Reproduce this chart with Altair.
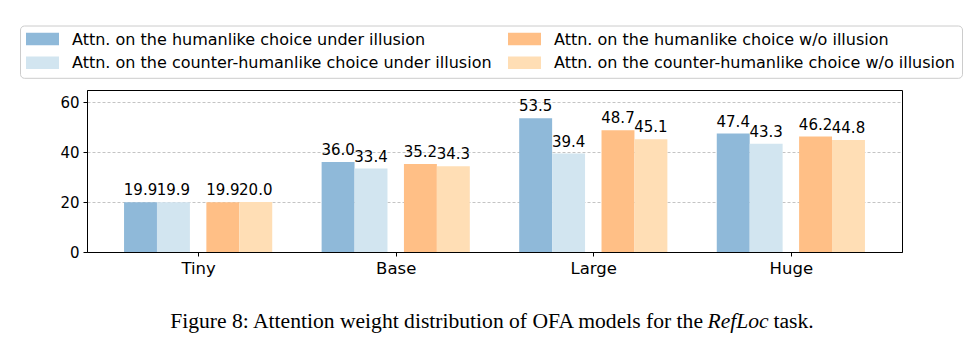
import json
import altair as alt
import pandas as pd

# ---------------- data ----------------
models = ["Tiny", "Base", "Large", "Huge"]
series = [
    "Attn. on the humanlike choice under illusion",
    "Attn. on the counter-humanlike choice under illusion",
    "Attn. on the humanlike choice w/o illusion",
    "Attn. on the counter-humanlike choice w/o illusion",
]
colors = ["#8fb9d9", "#d2e5f0", "#ffbf86", "#ffdeb5"]
humanlike_illusion = [19.9, 36.0, 53.5, 47.4]
counter_illusion = [19.9, 33.4, 39.4, 43.3]
humanlike_no_illusion = [19.9, 35.2, 48.7, 46.2]
counter_no_illusion = [20.0, 34.3, 45.1, 44.8]
y_ticks = [0, 20, 40, 60]
caption_main = "Figure 8: Attention weight distribution of OFA models for the"
caption_italic = "RefLoc"
caption_end = "task."

# ---------------- layout ----------------
BAR_W = 1 / 6
GAP = BAR_W / 2
offsets = [-(GAP / 2 + 1.5 * BAR_W), -(GAP / 2 + 0.5 * BAR_W),
           GAP / 2 + 0.5 * BAR_W, GAP / 2 + 1.5 * BAR_W]
values = [humanlike_illusion, counter_illusion, humanlike_no_illusion, counter_no_illusion]

rows = []
for si, (name, vals) in enumerate(zip(series, values)):
    for mi, m in enumerate(models):
        c = mi + offsets[si]
        rows.append({"model": m, "series": name, "value": vals[mi],
                     "center": c, "x0": c - BAR_W / 2, "x1": c + BAR_W / 2})
df = pd.DataFrame(rows)

FONT = "DejaVu Sans"
W, H = 815, 162
xscale = alt.Scale(domain=[-0.5625, 3.5625], nice=False, zero=False, padding=0)
yscale = alt.Scale(domain=[0, 64.8], nice=False, padding=0)
cscale = alt.Scale(domain=series, range=colors)

bars = alt.Chart(df).mark_bar(orient="vertical").encode(
    x=alt.X("x0:Q", scale=xscale,
            axis=alt.Axis(values=[0, 1, 2, 3], labelExpr=f"{json.dumps(models)}[datum.value]",
                          grid=False, title=None, tickSize=4, labelFontSize=16.5,
                          labelPadding=4, labelFont=FONT, labelColor="black",
                          domainColor="black", tickColor="black")),
    x2="x1:Q",
    y=alt.Y("value:Q", scale=yscale,
            axis=alt.Axis(values=y_ticks, title=None, grid=True, gridDash=[3, 2],
                          gridColor="#c4c4c4", gridWidth=1, tickSize=4,
                          labelFontSize=15, labelPadding=4, labelFont=FONT,
                          labelColor="black", domainColor="black", tickColor="black")),
    y2=alt.datum(0),
    color=alt.Color("series:N", scale=cscale, legend=None),
)

labels = alt.Chart(df).mark_text(baseline="alphabetic", dy=-7, fontSize=15,
                                 font=FONT, color="black").encode(
    x=alt.X("center:Q", scale=xscale),
    y=alt.Y("value:Q", scale=yscale),
    text=alt.Text("value:Q", format=".1f"),
)

one = pd.DataFrame({"a": [0]})

# legend (drawn by hand, in pixel space)
legend_box = alt.Chart(one).mark_rect(fill="white", stroke="#cccccc", strokeWidth=1,
                                      cornerRadius=4).encode(
    x=alt.value(-66.5), x2=alt.value(875.5), y=alt.value(-64), y2=alt.value(-11.7))

legend_layers = [legend_box]
sw_x = [-61, 421]
tx_x = [-15, 467]
row_y = [-51, -27.3]
for si, name in enumerate(series):
    col, row = si // 2, si % 2
    legend_layers.append(alt.Chart(one).mark_rect(color=colors[si]).encode(
        x=alt.value(sw_x[col]), x2=alt.value(sw_x[col] + 33),
        y=alt.value(row_y[row] - 6.2), y2=alt.value(row_y[row] + 6.2)))
    legend_layers.append(alt.Chart(one).mark_text(
        text=name, align="left", baseline="middle", fontSize=16, font=FONT,
        color="black").encode(x=alt.value(tx_x[col]), y=alt.value(row_y[row] + 0.5)))

cap_y = 238
CAP_SIZE = 21.6
caption = [
    alt.Chart(one).mark_text(text=caption_main, align="right", baseline="alphabetic",
                             font="Liberation Serif", fontSize=CAP_SIZE, color="black").encode(
        x=alt.value(616), y=alt.value(cap_y)),
    alt.Chart(one).mark_text(text=caption_italic, align="left", baseline="alphabetic",
                             font="Liberation Serif", fontSize=CAP_SIZE, fontStyle="italic",
                             color="black").encode(x=alt.value(620.5), y=alt.value(cap_y)),
    alt.Chart(one).mark_text(text=caption_end, align="left", baseline="alphabetic",
                             font="Liberation Serif", fontSize=CAP_SIZE, color="black").encode(
        x=alt.value(686.5), y=alt.value(cap_y)),
]

chart = alt.layer(bars, labels, *legend_layers, *caption).properties(
    width=W, height=H,
    autosize=alt.AutoSizeParams(type="none"),
    padding={"left": 87, "top": 90, "right": 71, "bottom": 93},
    background="white",
).configure_view(stroke="black", strokeWidth=1)

chart.save("out.html", embed_options={"renderer": "svg", "actions": False})
